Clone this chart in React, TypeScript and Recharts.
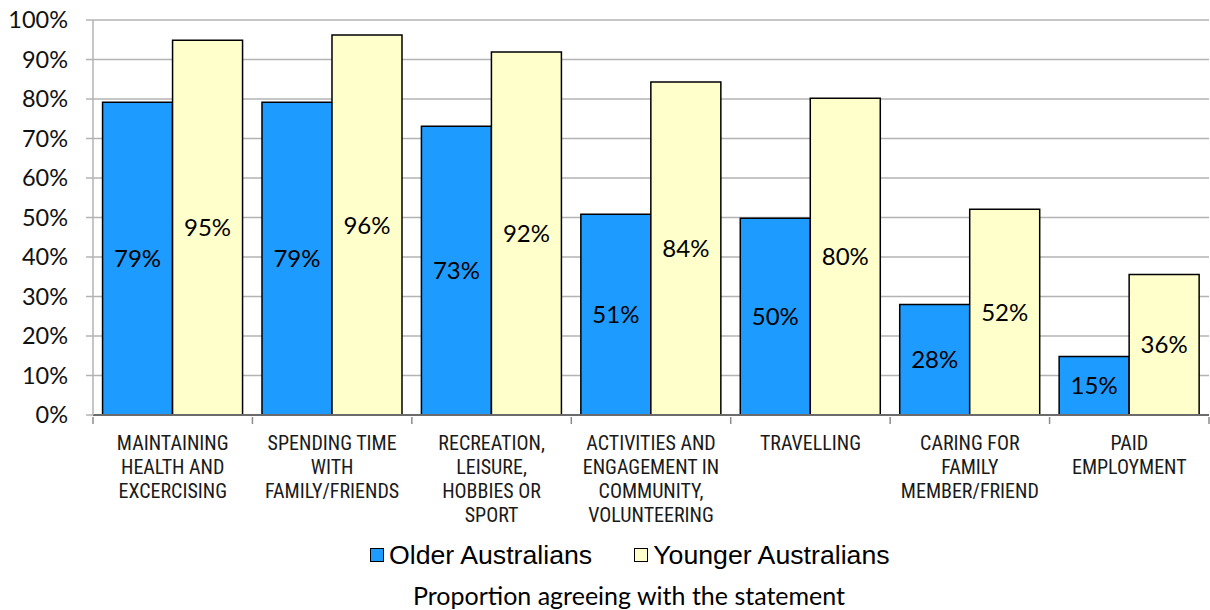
import React from 'react';
import { BarChart, Bar, XAxis, YAxis, CartesianGrid, LabelList } from 'recharts';

// activity categories, line breaks as on the original axis
const categories = [
  'MAINTAINING\nHEALTH AND\nEXCERCISING',
  'SPENDING TIME\nWITH\nFAMILY/FRIENDS',
  'RECREATION,\nLEISURE,\nHOBBIES OR\nSPORT',
  'ACTIVITIES AND\nENGAGEMENT IN\nCOMMUNITY,\nVOLUNTEERING',
  'TRAVELLING',
  'CARING FOR\nFAMILY\nMEMBER/FRIEND',
  'PAID\nEMPLOYMENT',
];

const olderAustralians = [79.2, 79.2, 73.1, 50.8, 49.8, 28.0, 14.8];
const youngerAustralians = [94.9, 96.2, 91.9, 84.3, 80.2, 52.1, 35.6];

const yTicks = [0, 10, 20, 30, 40, 50, 60, 70, 80, 90, 100];

const OLDER = '#1E9BFF';
const YOUNGER = '#FFFFCC';

const chartData = categories.map((c, i) => ({
  category: c,
  older: olderAustralians[i],
  younger: youngerAustralians[i],
}));

const CHART_W = 1210;
const PLOT_LEFT = 93;
const PLOT_RIGHT = 1;
const BAND = (CHART_W - PLOT_LEFT - PLOT_RIGHT) / categories.length;

const CategoryTick = (props: any) => {
  const { x, y, payload, index } = props;
  const lines = String(payload.value).split('\n');
  return (
    <g>
      {/* tick marks sit on category boundaries, like Excel */}
      <line x1={x - BAND / 2} x2={x - BAND / 2} y1={y - 6} y2={y + 1} stroke="#8c8c8c" strokeWidth={1.5} />
      {index === categories.length - 1 && (
        <line x1={x + BAND / 2} x2={x + BAND / 2} y1={y - 6} y2={y + 1} stroke="#8c8c8c" strokeWidth={1.5} />
      )}
      <text
        x={x}
        y={y + 27}
        textAnchor="middle"
        fill="#1a1a1a"
        fontSize={20}
        fontFamily="'Liberation Sans Narrow', 'Roboto Condensed', 'Liberation Sans', Arial, sans-serif"
      >
        {lines.map((l, i) => (
          <tspan key={i} x={x} dy={i === 0 ? 0 : 24}>
            {l}
          </tspan>
        ))}
      </text>
    </g>
  );
};

const LegendItem = ({ color, label, gap }: { color: string; label: string; gap: number }) => (
  <span style={{ display: 'inline-flex', alignItems: 'center', marginRight: gap }}>
    <span
      style={{
        display: 'inline-block',
        width: 12,
        height: 12,
        background: color,
        border: '1.5px solid #000',
        marginRight: 5,
      }}
    />
    <span>{label}</span>
  </span>
);

export default function App() {
  return (
    <div style={{ position: 'absolute', left: 0, top: 0, width: 1210, height: 610, background: '#fff' }}>
      <BarChart
        width={CHART_W}
        height={540}
        data={chartData}
        margin={{ top: 20, right: PLOT_RIGHT, left: 0, bottom: 0 }}
        barCategoryGap="6%"
        barGap={0}
      >
        <CartesianGrid vertical={false} stroke="#b3b3b3" strokeWidth={1.5} />
        <XAxis
          dataKey="category"
          interval={0}
          height={125}
          tickLine={false}
          axisLine={{ stroke: '#6b6b6b', strokeWidth: 2 }}
          tick={<CategoryTick />}
        />
        <YAxis
          width={PLOT_LEFT}
          domain={[0, 100]}
          ticks={yTicks}
          interval={0}
          tickFormatter={(v: number) => `${v}%`}
          axisLine={{ stroke: '#b3b3b3', strokeWidth: 1.5 }}
          tickLine={{ stroke: '#b3b3b3', strokeWidth: 1.5 }}
          tickSize={7}
          tickMargin={18}
          tick={{ fill: '#111', fontSize: 23.5, fontFamily: 'Lato, Carlito, sans-serif' }}
        />
        <Bar dataKey="older" fill={OLDER} stroke="#000" strokeWidth={1.5} isAnimationActive={false}>
          <LabelList
            dataKey="older"
            position="center"
            formatter={(v: any) => `${Math.round(Number(v))}%`}
            fill="#000"
            fontSize={24}
            fontFamily="Lato, Carlito, sans-serif"
          />
        </Bar>
        <Bar dataKey="younger" fill={YOUNGER} stroke="#000" strokeWidth={1.5} isAnimationActive={false}>
          <LabelList
            dataKey="younger"
            position="center"
            formatter={(v: any) => `${Math.round(Number(v))}%`}
            fill="#000"
            fontSize={24}
            fontFamily="Lato, Carlito, sans-serif"
          />
        </Bar>
      </BarChart>
      <div
        style={{
          position: 'absolute',
          top: 538,
          left: 370,
          display: 'flex',
          alignItems: 'center',
          lineHeight: '34px',
          fontFamily: "'Liberation Sans', Arial, sans-serif",
          fontSize: 26.7,
          color: '#000',
          whiteSpace: 'nowrap',
        }}
      >
        <LegendItem color={OLDER} label="Older Australians" gap={42} />
        <LegendItem color={YOUNGER} label="Younger Australians" gap={0} />
      </div>
      <div
        style={{
          position: 'absolute',
          top: 580,
          left: 24,
          width: 1210,
          textAlign: 'center',
          fontFamily: 'Lato, Carlito, sans-serif',
          fontSize: 25,
          color: '#000',
        }}
      >
        Proportion agreeing with the statement
      </div>
    </div>
  );
}
